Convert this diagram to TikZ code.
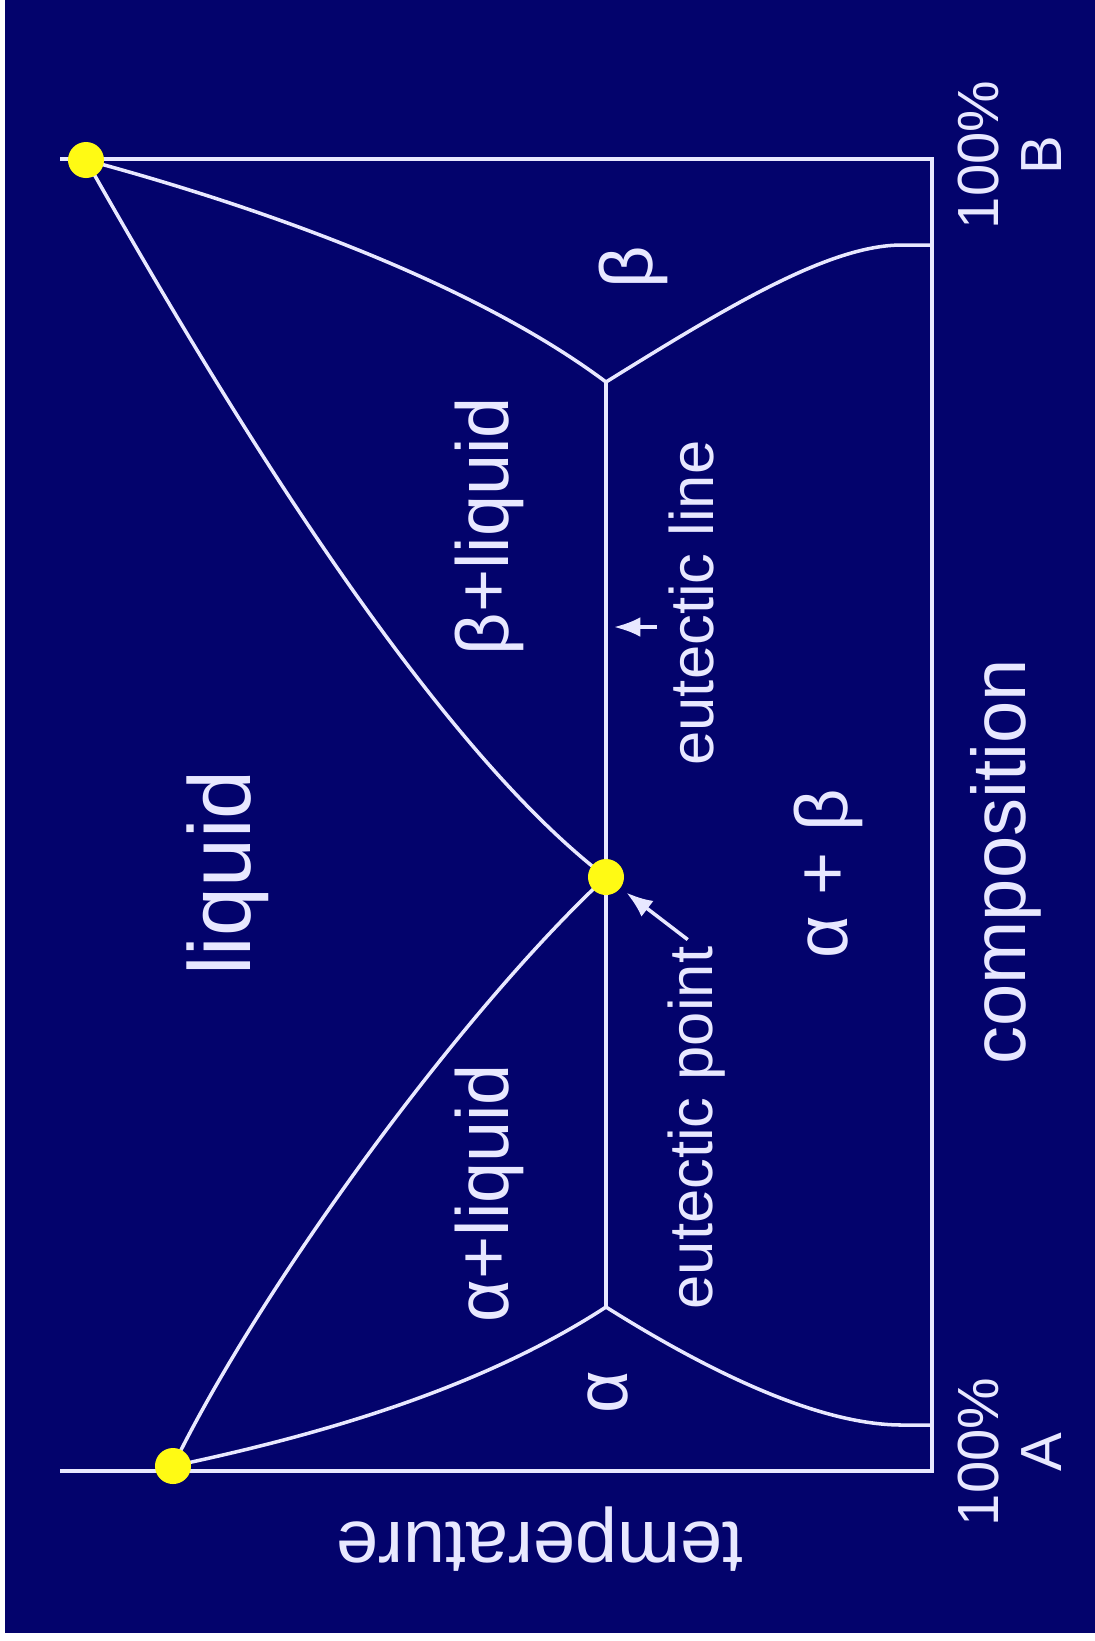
\documentclass[tikz,border=0pt]{standalone}
\usepackage{fontspec}
\setmainfont{Liberation Sans}
\usetikzlibrary{arrows.meta}
\definecolor{slidebg}{RGB}{3,3,108}
\definecolor{chalk}{RGB}{232,232,255}
\definecolor{meltdot}{RGB}{255,250,20}
\newcommand{\lblsize}[1]{\fontsize{#1}{1.1\dimexpr#1pt\relax}\selectfont}
\begin{document}
\begin{tikzpicture}[x=0.01cm,y=-0.01cm,>=Latex,
  phase/.style={chalk,line width=1pt},
  melt/.style={circle,fill=meltdot,inner sep=0pt,minimum size=0.36cm},
  lbl/.style={text=chalk,rotate=90,anchor=base,inner sep=0pt}]
  \useasboundingbox (0,0) rectangle (1095,1641);
  \fill[white] (0,0) rectangle (1095,1641);
  \fill[slidebg] (5,0) rectangle (1095,1633);
  \coordinate (endA) at (60,1471);
  \coordinate (cornA) at (932,1471);
  \coordinate (cornB) at (932,159);
  \coordinate (endB) at (60,159);
  \coordinate (Am) at (173,1466);
  \coordinate (Bm) at (86,160);
  \coordinate (E) at (606,877);
  \coordinate (Ea) at (606,1307);
  \coordinate (Eb) at (606,382);
  \coordinate (Sa) at (932,1425);
  \coordinate (Sb) at (932,245);
  \draw[phase] (endA) -- (cornA) -- (cornB) -- (endB);
  \draw[phase] (Am) .. controls (261,1286) and (460,1013) .. (E);
  \draw[phase] (Bm) .. controls (205,370) and (420,735) .. (E);
  \draw[phase] (Am) .. controls (320,1435) and (480,1389) .. (Ea);
  \draw[phase] (Bm) .. controls (250,204) and (470,280) .. (Eb);
  \draw[phase] (Ea) .. controls (730,1385) and (830,1425) .. (902,1425) -- (Sa);
  \draw[phase] (Eb) .. controls (730,305) and (830,245) .. (902,245) -- (Sb);
  \draw[phase] (Eb) -- (Ea);
  \node[melt] (dotA) at (Am) {};
  \node[melt] (dotB) at (Bm) {};
  \node[melt] (dotE) at (E) {};
  \node[lbl,font=\lblsize{25}] (liq) at (250,873) {liquid};
  \node[lbl,font=\lblsize{21}] (aliq) at (508,1193) {α+liquid};
  \node[lbl,font=\lblsize{21}] (bliq) at (508,526) {β+liquid};
  \node[lbl,font=\lblsize{21}] (alph) at (627,1392) {α};
  \node[lbl,font=\lblsize{21}] (bet) at (652,267) {β};
  \node[lbl,font=\lblsize{21}] (ab) at (847,874) {α + β};
  \node[lbl,font=\lblsize{17.5}] (eline) at (713,603) {eutectic line};
  \node[lbl,font=\lblsize{17.5}] (epoint) at (712,1128) {eutectic point};
  \node[lbl,font=\lblsize{21.6}] (comp) at (1025,862) {composition};
  \node[lbl,rotate=90,font=\lblsize{21.5}] (temp) at (540,1522) {temperature};
  \node[text=chalk,rotate=90,align=center,inner sep=0pt,font=\fontsize{16.5}{18}\selectfont] (pctA) at (1010,1452) {100\%\\A};
  \node[text=chalk,rotate=90,align=center,inner sep=0pt,font=\fontsize{16.5}{18}\selectfont] (pctB) at (1010,155) {100\%\\B};
  \coordinate (lineTail) at (657,627);
  \coordinate (lineTip) at (614,627);
  \draw[phase,->] (lineTail) -- (lineTip);
  \draw[phase,->,shorten <=3pt,shorten >=2pt] (epoint.east) -- (dotE);
\end{tikzpicture}
\end{document}
